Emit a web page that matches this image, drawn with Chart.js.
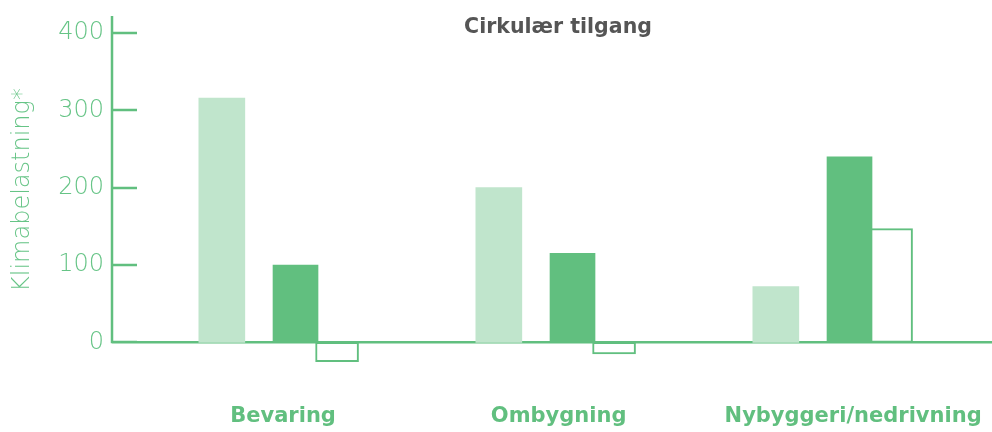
<!DOCTYPE html>
<html>
<head>
<meta charset="utf-8">
<script src="https://cdn.jsdelivr.net/npm/chart.js@4"></script>
<style>
  html, body { margin: 0; padding: 0; background: #fff; }
  #wrap { width: 992px; height: 432px; }
</style>
</head>
<body>
<div id="wrap"><canvas id="chart"></canvas></div>
<script>
// data
const categories = ['Bevaring', 'Ombygning', 'Nybyggeri/nedrivning'];
const seriesLight = [316, 200, 72];
const seriesDark = [100, 115, 240];
const seriesOutline = [-25, -15, 147];
const yTicks = [0, 100, 200, 300, 400];

const green = '#61bf7f';
const lightGreen = '#c0e5cc';
const fontFamily = '"DejaVu Sans", Inter, sans-serif';

// place each series next to the category slot
const toPoints = (arr, shift) => arr.map((v, i) => ({ x: i + shift, y: v }));

// draws the y axis line, short tick marks and the zero line (under the bars)
const axisPlugin = {
  id: 'axisLines',
  beforeDatasetsDraw(chart) {
    const { ctx, chartArea, scales } = chart;
    const y = scales.y;
    const zero = y.getPixelForValue(0);
    ctx.save();
    ctx.strokeStyle = green;
    ctx.lineWidth = 2.5;
    ctx.beginPath();
    ctx.moveTo(chartArea.left, chartArea.top);
    ctx.lineTo(chartArea.left, zero + 1);
    yTicks.forEach(t => {
      const py = Math.round(y.getPixelForValue(t));
      ctx.moveTo(chartArea.left, py);
      ctx.lineTo(chartArea.left + 25, py);
    });
    ctx.moveTo(chartArea.left, zero);
    ctx.lineTo(chartArea.right, zero);
    ctx.stroke();
    ctx.restore();
  }
};

const titlePlugin = {
  id: 'innerTitle',
  afterDraw(chart) {
    const { ctx, chartArea } = chart;
    ctx.save();
    ctx.font = 'bold 20.5px ' + fontFamily;
    ctx.fillStyle = '#555555';
    ctx.textAlign = 'center';
    ctx.textBaseline = 'alphabetic';
    ctx.fillText('Cirkulær tilgang', (chartArea.left + chartArea.right) / 2 + 6, 33);
    ctx.restore();
  }
};

new Chart(document.getElementById('chart'), {
  type: 'bar',
  data: {
    datasets: [
      {
        data: toPoints(seriesLight, -0.266),
        backgroundColor: lightGreen,
        barThickness: 46,
        order: 3
      },
      {
        data: toPoints(seriesDark, 0),
        backgroundColor: green,
        barThickness: 45,
        order: 1
      },
      {
        data: toPoints(seriesOutline, 0.15),
        backgroundColor: '#ffffff',
        borderColor: green,
        borderWidth: 2,
        borderSkipped: false,
        barThickness: 43,
        order: 2
      }
    ]
  },
  options: {
    responsive: true,
    maintainAspectRatio: false,
    animation: false,
    layout: { padding: { left: 0, right: 0, top: 16, bottom: 0 } },
    plugins: { legend: { display: false }, tooltip: { enabled: false } },
    datasets: { bar: { grouped: false } },
    scales: {
      x: {
        type: 'linear',
        offset: false,
        min: -0.6625,
        max: 2.5144,
        grid: { display: false, drawTicks: false },
        border: { display: false },
        afterBuildTicks: scale => {
          scale.ticks = [{ value: -0.045 }, { value: 0.95 }, { value: 2.013 }];
        },
        afterFit: scale => {
          scale.height = 68;
          scale.paddingLeft = 0;
          scale.paddingRight = 0;
        },
        ticks: {
          padding: 40,
          color: green,
          font: { family: fontFamily, size: 21, weight: 'bold' },
          maxRotation: 0,
          autoSkip: false,
          callback: (v, i) => categories[i]
        }
      },
      y: {
        min: -28,
        max: 422,
        afterBuildTicks: scale => {
          scale.ticks = yTicks.map(v => ({ value: v }));
        },
        afterFit: scale => {
          scale.width = 112;
          scale.paddingTop = 0;
          scale.paddingBottom = 0;
        },
        grid: { display: false, drawTicks: false },
        border: { display: false },
        ticks: {
          padding: 8,
          color: '#66c486',
          font: { family: fontFamily, size: 24, weight: '200' }
        },
        title: {
          display: true,
          text: 'Klimabelastning*',
          color: '#66c486',
          padding: { top: 8, bottom: 0 },
          font: { family: fontFamily, size: 24, weight: '200' }
        }
      }
    }
  },
  plugins: [axisPlugin, titlePlugin]
});
</script>
</body>
</html>
